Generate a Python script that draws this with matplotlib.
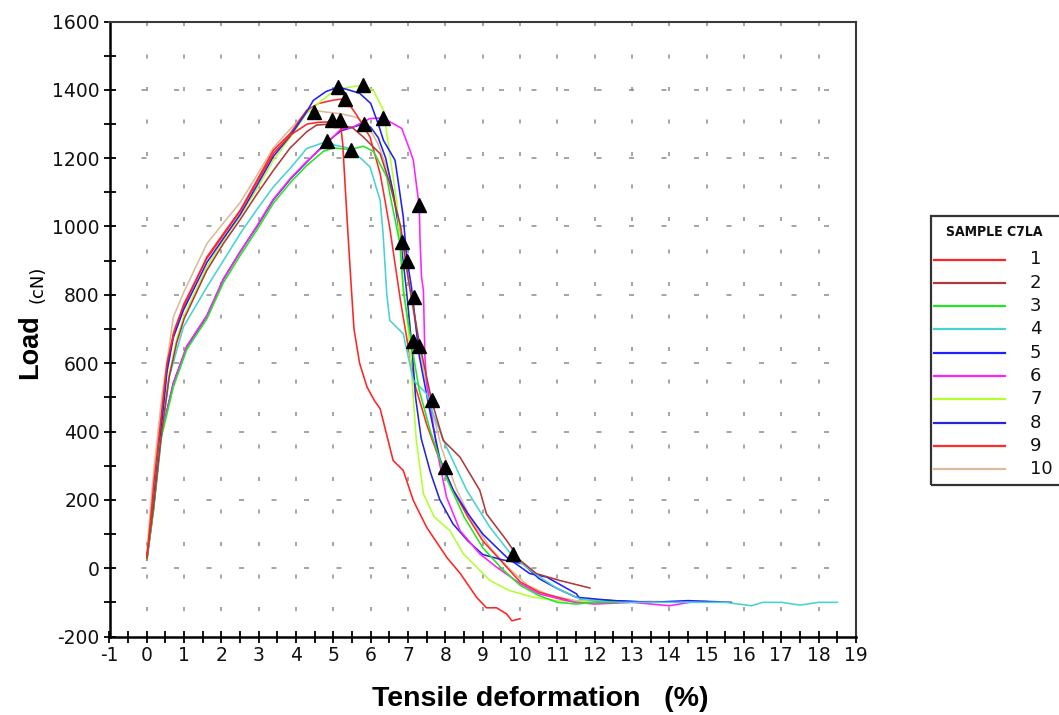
import matplotlib
matplotlib.use("Agg")
import matplotlib.pyplot as plt
from matplotlib.lines import Line2D
from matplotlib.patches import Rectangle
from matplotlib.ticker import MultipleLocator

plt.rcParams['lines.scale_dashes'] = False
plt.rcParams['axes.unicode_minus'] = False

# ---------------------------------------------------------------- data
sample_names = ["1", "2", "3", "4", "5", "6", "7", "8", "9", "10"]
sample_colors = ["#ff2424", "#b03a3a", "#22e622", "#48d2d2", "#2020ff",
                 "#ff22ff", "#b2ff30", "#2626d8", "#ff2a2a", "#dcbc98"]

s1_x = [0, 0.1, 0.2, 0.36, 0.54, 0.75, 1.0, 1.6, 2.05, 2.5, 2.95, 3.4, 3.85, 4.3, 4.6, 4.9,
        5.18, 5.25, 5.35, 5.45, 5.55, 5.7, 5.9, 6.1, 6.25, 6.45, 6.6, 6.87, 7.14, 7.5, 8.04,
        8.4, 8.84, 9.1, 9.37, 9.64, 9.78, 10.0]
s1_y = [30, 140, 260, 420, 600, 700, 775, 905, 975, 1045, 1130, 1215, 1268, 1300, 1305, 1306,
        1311, 1240, 1050, 870, 700, 600, 530, 490, 467, 380, 315, 286, 198, 119, 31,
        -16, -86, -116, -116, -134, -154, -148]

s2_x = [0, 0.2, 0.4, 0.6, 0.8, 1.0, 1.6, 2.05, 2.5, 2.95, 3.39, 3.84, 4.28, 4.55, 4.95, 5.2,
        5.5, 5.8, 6.0, 6.25, 6.5, 6.8, 7.0, 7.3, 7.63, 7.94, 8.39, 8.92, 9.1, 9.64, 10.0,
        10.44, 11.06, 11.87]
s2_y = [30, 200, 400, 560, 660, 730, 870, 950, 1020, 1095, 1164, 1230, 1277, 1297, 1300, 1295,
        1290, 1262, 1240, 1213, 1130, 1000, 850, 660, 491, 374, 325, 228, 159, 81, 23,
        -16, -36, -58]

s3_x = [0, 0.18, 0.36, 0.71, 1.07, 1.61, 2.05, 2.5, 2.95, 3.39, 3.84, 4.28, 4.73, 5.0, 5.46,
        5.8, 6.07, 6.43, 6.51, 6.78, 6.87, 7.1, 7.3, 7.6, 8.0, 8.5, 9.0, 9.5, 10.0, 10.5,
        11.0, 11.5, 12.0, 12.6]
s3_y = [25, 170, 370, 530, 640, 730, 835, 915, 990, 1068, 1128, 1178, 1220, 1230, 1225,
        1235, 1220, 1145, 1096, 950, 813, 650, 520, 400, 270, 150, 60, 0, -50, -80,
        -100, -105, -100, -100]

s4_x = [0, 0.2, 0.4, 0.6, 0.98, 1.61, 2.05, 2.5, 2.95, 3.39, 3.84, 4.28, 4.82, 5.04, 5.4,
        5.8, 5.98, 6.25, 6.33, 6.43, 6.51, 6.87, 7.14, 7.5, 7.67, 8.03, 8.57, 9.19, 9.82,
        10.53, 11.0, 11.6, 12.5, 13.5, 14.5, 15.5, 16.2, 16.5, 17.0, 17.5, 18.0, 18.5]
s4_y = [25, 190, 390, 560, 706, 823, 900, 979, 1050, 1116, 1170, 1228, 1249, 1238, 1230,
        1193, 1174, 1077, 979, 800, 725, 686, 550, 510, 451, 354, 228, 120, 32,
        -26, -60, -90, -100, -100, -100, -100, -110, -100, -100, -108, -100, -100]

s5_x = [0, 0.18, 0.36, 0.54, 0.71, 0.98, 1.61, 2.05, 2.5, 2.95, 3.39, 3.84, 4.28, 4.46, 4.8,
        5.13, 5.4, 5.7, 6.0, 6.2, 6.34, 6.65, 6.73, 6.87, 6.96, 7.09, 7.3, 7.6, 7.85, 8.2,
        8.6, 9.0, 9.64, 10.26, 10.71, 11.51, 11.6, 12.5, 13.5, 14.5, 15.66]
s5_y = [25, 190, 380, 575, 675, 755, 895, 965, 1035, 1120, 1205, 1265, 1335, 1369, 1395,
        1408, 1400, 1390, 1360, 1300, 1252, 1194, 1135, 1028, 911, 823, 620, 450, 320, 230,
        160, 100, 32, -16, -26, -75, -90, -95, -100, -95, -100]

s6_x = [0, 0.18, 0.36, 0.71, 1.07, 1.61, 2.05, 2.5, 2.95, 3.39, 3.84, 4.28, 4.82, 5.2, 5.5,
        5.98, 6.34, 6.52, 6.83, 7.05, 7.14, 7.23, 7.30, 7.32, 7.36, 7.41, 7.45, 7.5, 7.6,
        7.8, 8.03, 8.39, 8.92, 9.37, 10.0, 10.5, 11.24, 11.5, 12.0, 13.0, 14.0, 14.55]
s6_y = [25, 175, 375, 540, 650, 740, 845, 925, 1002, 1080, 1140, 1190, 1243, 1285, 1290,
        1316, 1318, 1306, 1287, 1223, 1194, 1116, 1057, 960, 852, 813, 620, 540, 470,
        330, 208, 110, 42, 3, -45, -75, -95, -100, -105, -100, -110, -100]

s7_x = [0, 0.2, 0.4, 0.6, 0.8, 1.0, 1.6, 2.05, 2.5, 2.95, 3.39, 3.84, 4.28, 4.7, 5.0, 5.3,
        5.55, 5.8, 6.07, 6.34, 6.52, 6.69, 6.78, 6.87, 7.0, 7.1, 7.22, 7.41, 7.7, 8.12,
        8.48, 9.19, 9.7, 10.35, 11.0, 12.0]
s7_y = [28, 200, 400, 570, 670, 740, 880, 960, 1030, 1110, 1194, 1260, 1331, 1370, 1395, 1405,
        1410, 1413, 1398, 1340, 1203, 1077, 960, 833, 700, 560, 374, 218, 150, 110,
        42, -36, -65, -85, -95, -100]

s8_x = [0, 0.18, 0.36, 0.71, 1.07, 1.61, 2.05, 2.5, 2.95, 3.39, 3.84, 4.28, 4.8, 5.2, 5.5,
        5.82, 6.0, 6.2, 6.4, 6.6, 6.8, 6.95, 7.1, 7.2, 7.35, 7.6, 7.85, 8.2, 8.6, 9.0, 9.5,
        10.08, 10.5, 11.0, 11.5, 12.5, 13.5]
s8_y = [25, 175, 378, 542, 648, 738, 846, 926, 1000, 1078, 1138, 1188, 1245, 1280, 1290,
        1301, 1290, 1260, 1200, 1100, 960, 820, 650, 500, 380, 280, 200, 130, 80, 40, 25,
        13, -30, -60, -85, -95, -100]

s9_x = [0, 0.18, 0.36, 0.54, 0.71, 0.98, 1.61, 2.05, 2.5, 2.95, 3.39, 3.84, 4.28, 4.6, 5.0,
        5.31, 5.6, 5.98, 6.25, 6.38, 6.52, 6.65, 6.8, 7.0, 7.2, 7.5, 7.8, 8.2, 8.6, 9.0,
        9.5, 10.0, 10.5, 11.0, 11.5, 12.0, 12.9]
s9_y = [28, 198, 394, 588, 686, 764, 911, 979, 1047, 1135, 1223, 1272, 1340, 1360, 1370,
        1374, 1330, 1262, 1155, 1077, 988, 891, 780, 650, 530, 420, 330, 230, 150, 80,
        20, -40, -70, -85, -100, -100, -100]

s10_x = [0, 0.1, 0.2, 0.4, 0.6, 0.71, 1.0, 1.61, 2.05, 2.5, 2.95, 3.39, 3.84, 4.28, 4.48,
         4.8, 5.2, 5.6, 5.9, 6.2, 6.5, 6.7, 6.9, 7.1, 7.3, 7.6, 7.9, 8.3, 8.7, 9.2, 9.7,
         10.2, 10.8, 11.5, 12.5, 13.5, 14.2, 15.0]
s10_y = [40, 180, 300, 500, 650, 735, 810, 950, 1010, 1070, 1150, 1230, 1285, 1335, 1340,
         1335, 1330, 1320, 1300, 1240, 1150, 1050, 920, 780, 640, 480, 350, 230, 140, 60, 0,
         -50, -80, -95, -100, -97, -100, -97]

series_x = [s1_x, s2_x, s3_x, s4_x, s5_x, s6_x, s7_x, s8_x, s9_x, s10_x]
series_y = [s1_y, s2_y, s3_y, s4_y, s5_y, s6_y, s7_y, s8_y, s9_y, s10_y]

# triangle markers (peak and break points)
marker_x = [5.13, 5.80, 5.31, 4.48, 4.95, 5.18, 5.82, 6.34, 4.82, 5.46,
            7.30, 6.83, 6.96, 7.16, 7.13, 7.28, 7.63, 7.99, 9.80]
marker_y = [1408, 1413, 1374, 1335, 1311, 1311, 1301, 1318, 1249, 1225,
            1064, 955, 899, 794, 665, 650, 491, 296, 42]

x_ticks = list(range(-1, 20))
y_ticks = list(range(-200, 1601, 200))
legend_title = "SAMPLE C7LA"

# ---------------------------------------------------------------- figure
W, H = 1059, 715
fig = plt.figure(figsize=(W / 100, H / 100), dpi=100)
ax = fig.add_axes([109.5 / W, 1 - 636.5 / H, (856 - 109.5) / W, (636.5 - 21.5) / H])
ax.set_xlim(-1, 19)
ax.set_ylim(-200, 1600)

# dashed grid: vertical lines at every integer, horizontal every 200
grid_col = "#8c8c8c"
for gx in range(0, 19):
    ax.plot([gx, gx], [1600, -200], color=grid_col, lw=1.1,
            linestyle=(0, (2.9, 20.5)), zorder=0.5, dash_capstyle='butt')
for gy in range(0, 1601, 200):
    ax.plot([-1, 19], [gy, gy], color=grid_col, lw=1.1,
            linestyle=(0, (3.6, 19.8)), zorder=0.5, dash_capstyle='butt')

# curves, last sample drawn first
for i in reversed(range(len(series_x))):
    ax.plot(series_x[i], series_y[i], color=sample_colors[i], lw=1.15,
            zorder=2 + (10 - i) * 0.01)

ax.plot(marker_x, marker_y, linestyle='none', marker='^', color='black',
        markersize=9.5, zorder=5)

# axes frame and ticks
ax.set_xticks(x_ticks)
ax.set_yticks(y_ticks)
ax.xaxis.set_minor_locator(MultipleLocator(0.5))
ax.yaxis.set_minor_locator(MultipleLocator(100))
for side in ("left", "bottom"):
    ax.spines[side].set_linewidth(1.8)
    ax.spines[side].set_color("black")
for side in ("top", "right"):
    ax.spines[side].set_linewidth(1.5)
    ax.spines[side].set_color("#3a3a3a")
ax.tick_params(which='both', direction='inout', length=8, width=1.3, color='black',
               top=False, right=False)
ax.tick_params(axis='both', which='major', labelsize=13.5, pad=3)
for lab in ax.get_xticklabels() + ax.get_yticklabels():
    lab.set_family("DejaVu Sans")
    lab.set_color("#111111")

# axis titles
fig.text(540 / W, 1 - 699 / H, "Tensile deformation   (%)", ha='center', va='center',
         fontsize=20.5, fontweight='bold', family=['Liberation Sans Narrow', 'Liberation Sans'])
fig.text(30 / W, 1 - 347 / H, "Load", ha='center', va='center', rotation=90,
         fontsize=19.5, fontweight='bold', family=['Liberation Sans', 'DejaVu Sans'])
fig.text(38 / W, 1 - 284 / H, "(cN)", ha='center', va='center', rotation=90,
         fontsize=13, family=['DejaVu Sans'])

# legend panel
box = Rectangle((931 / W, 1 - 485 / H), 140 / W, (485 - 216) / H, transform=fig.transFigure,
                fill=False, edgecolor='#333333', lw=1.6, clip_on=False)
fig.patches.append(box)
fig.text(994 / W, 1 - 232 / H, legend_title, ha='center', va='center', fontsize=10,
         fontweight='bold', family=['DejaVu Sans'], fontstretch='condensed', color='#111111')
for i, name in enumerate(sample_names):
    yy = 1 - (259.5 + i * 23.3) / H
    fig.lines.append(Line2D([934 / W, 1005 / W], [yy, yy], transform=fig.transFigure,
                            color=sample_colors[i], lw=1.6))
    fig.text(1030 / W, yy, name, ha='left', va='center', fontsize=13,
             family=['DejaVu Sans'], color='#111111')

fig.savefig("out.png", dpi=100, facecolor='white')
